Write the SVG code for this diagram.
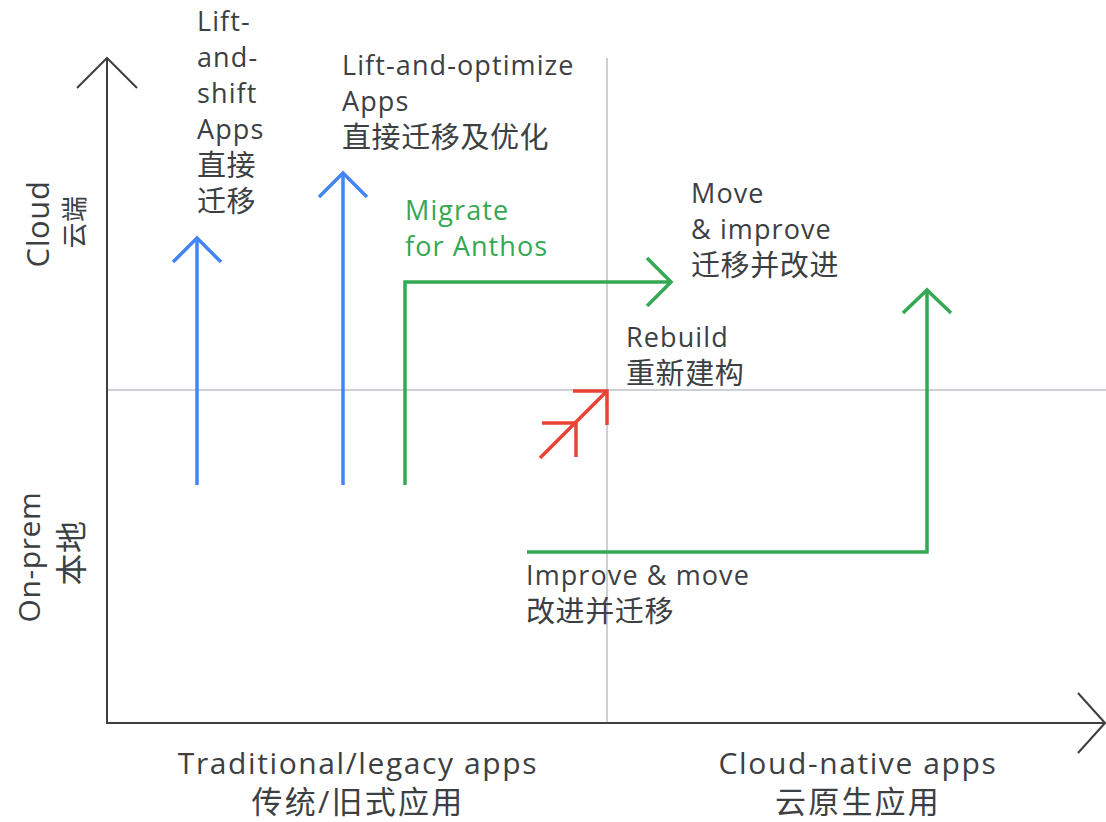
<svg xmlns="http://www.w3.org/2000/svg" width="1106" height="822" viewBox="0 0 1106 822">
<style>
text{font-family:"Open Sans","Noto Sans CJK SC",sans-serif;fill:#3c4043;font-size:27px;letter-spacing:1.1px}
.zh{font-size:29px;letter-spacing:0.6px}
.g{fill:#34a853}
.ax{font-size:30px;letter-spacing:1.6px}
.axzh{font-size:31px;letter-spacing:2.2px}
.side{font-size:30px;letter-spacing:0.6px}
.axis{stroke:#3c4043;stroke-width:2;fill:none}
.grid{stroke:#bdc1c6;stroke-width:1.5;fill:none}
.blue{stroke:#4285f4;stroke-width:3.5;fill:none}
.green{stroke:#34a853;stroke-width:3.5;fill:none}
.red{stroke:#ea4335;stroke-width:3.5;fill:none}
</style>
<rect width="1106" height="822" fill="#fff"/>
<g id="grid">
<line class="grid" x1="607" y1="58" x2="607" y2="723"/>
<line class="grid" x1="107" y1="390" x2="1106" y2="390"/>
</g>
<g id="axes">
<line class="axis" x1="107" y1="58" x2="107" y2="724"/>
<polyline class="axis" points="77,88 107,58 137,88"/>
<line class="axis" x1="106" y1="723" x2="1105" y2="723"/>
<polyline class="axis" points="1078,693 1105,723 1078,753"/>
</g>
<g id="connectors">
<line class="blue" x1="197" y1="485" x2="197" y2="239"/>
<polyline class="blue" points="173,262 197,238 221,262"/>
<line class="blue" x1="343" y1="485" x2="343" y2="174"/>
<polyline class="blue" points="319,197 343,173 367,197"/>
<polyline class="green" points="405,485 405,282 670,282"/>
<polyline class="green" points="647,258 671,282 647,306"/>
<polyline class="green" points="527,552 927,552 927,291"/>
<polyline class="green" points="903,313 927,290 951,313"/>
<line class="red" x1="540" y1="458" x2="607" y2="391"/>
<polyline class="red" points="573,391 607,391 607,425"/>
<polyline class="red" points="542,423 576,423 576,457"/>
</g>
<g id="lift-shift">
<text x="197" y="31">Lift-</text>
<text x="197" y="67">and-</text>
<text x="197" y="103">shift</text>
<text x="197" y="139">Apps</text>
<text class="zh" x="197" y="176">直接</text>
<text class="zh" x="197" y="212">迁移</text>
</g>
<g id="lift-optimize">
<text x="342" y="75">Lift-and-optimize</text>
<text x="342" y="111">Apps</text>
<text class="zh" x="342" y="148">直接迁移及优化</text>
</g>
<g id="migrate">
<text class="g" x="405" y="220">Migrate</text>
<text class="g" x="405" y="256">for Anthos</text>
</g>
<g id="move-improve">
<text x="691" y="203">Move</text>
<text x="691" y="239">&amp; improve</text>
<text class="zh" x="691" y="276">迁移并改进</text>
</g>
<g id="rebuild">
<text x="626" y="347">Rebuild</text>
<text class="zh" x="626" y="384">重新建构</text>
</g>
<g id="improve-move">
<text x="526" y="585">Improve &amp; move</text>
<text class="zh" x="526" y="622">改进并迁移</text>
</g>
<g id="x-labels">
<text class="ax" x="358" y="774" text-anchor="middle">Traditional/legacy apps</text>
<text class="axzh" x="358" y="813" text-anchor="middle">传统/旧式应用</text>
<text class="ax" x="858" y="774" text-anchor="middle">Cloud-native apps</text>
<text class="axzh" x="858" y="813" text-anchor="middle">云原生应用</text>
</g>
<g id="y-labels">
<text class="side" style="font-size:31px" transform="translate(49,224) rotate(-90)" text-anchor="middle">Cloud</text>
<text class="side" style="font-size:26px" transform="translate(84,222) rotate(-90)" text-anchor="middle">云端</text>
<text class="side" transform="translate(40,557) rotate(-90)" text-anchor="middle">On-prem</text>
<text class="side" style="font-size:32px" transform="translate(83,553) rotate(-90)" text-anchor="middle">本地</text>
</g>
</svg>
